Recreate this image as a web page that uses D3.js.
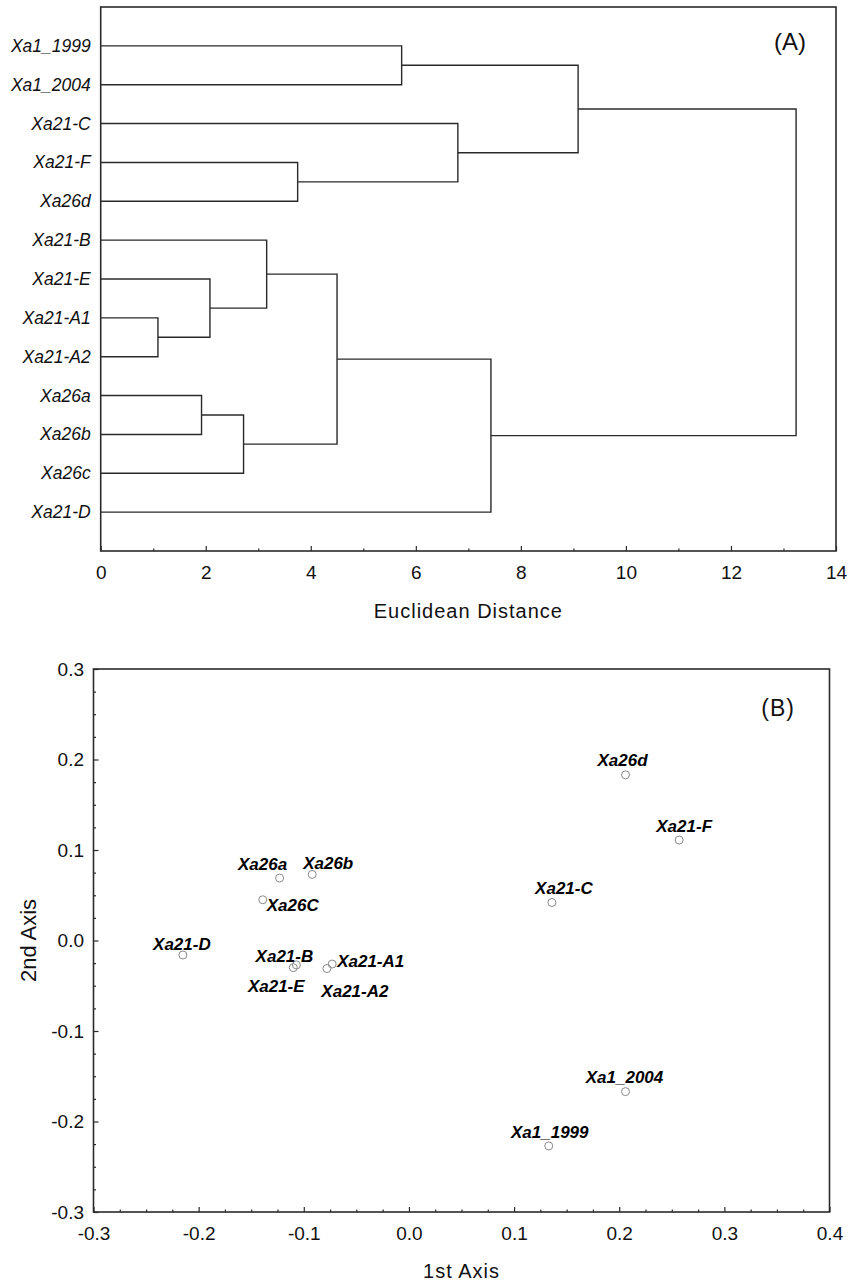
<!DOCTYPE html>
<html>
<head>
<meta charset="utf-8">
<script src="https://cdn.jsdelivr.net/npm/d3@7"></script>
<style>
  body { margin: 0; background: #fff; }
  svg { display: block; font-family: "Liberation Sans", Arial, sans-serif; }
</style>
</head>
<body>
<svg id="chart" width="848" height="1282"></svg>
<script>
// (A) dendrogram : leaves from top to bottom
var leaves = ["Xa1_1999", "Xa1_2004", "Xa21-C", "Xa21-F", "Xa26d", "Xa21-B", "Xa21-E",
              "Xa21-A1", "Xa21-A2", "Xa26a", "Xa26b", "Xa26c", "Xa21-D"];
// merges : [child, child, distance], new node ids start after the leaves
var merges = [
    [7, 8, 1.09],    // 13
    [9, 10, 1.92],   // 14
    [6, 13, 2.08],   // 15
    [14, 11, 2.72],  // 16
    [5, 15, 3.16],   // 17
    [3, 4, 3.75],    // 18
    [17, 16, 4.50],  // 19
    [0, 1, 5.73],    // 20
    [2, 18, 6.80],   // 21
    [19, 12, 7.43],  // 22
    [20, 21, 9.09],  // 23
    [23, 22, 13.24]  // 24
];
var distTicks = [0, 2, 4, 6, 8, 10, 12, 14];

// (B) ordination
var pcaNames = ["Xa26d", "Xa21-F", "Xa21-C", "Xa26a", "Xa26b", "Xa26C", "Xa21-D",
                "Xa21-B", "Xa21-E", "Xa21-A1", "Xa21-A2", "Xa1_2004", "Xa1_1999"];
var axis1 = [0.206, 0.257, 0.136, -0.123, -0.092, -0.139, -0.215, -0.107, -0.110, -0.073, -0.078, 0.206, 0.133];
var axis2 = [0.183, 0.111, 0.042, 0.069, 0.073, 0.045, -0.016, -0.027, -0.030, -0.026, -0.031, -0.167, -0.227];
var axisTicks = d3.range(-3, 5).map(i => i / 10);

// label placement around each point (dx, dy, anchor)
var labelPos = [
    [-3, -9, "middle"], [5, -8, "middle"], [12, -8, "middle"], [-17, -8, "middle"],
    [16, -5, "middle"], [4, 11, "start"], [-1, -5, "middle"], [-12, -3, "middle"],
    [-17, 24, "middle"], [5, 3, "start"], [28, 28, "middle"], [-1, -9, "middle"],
    [1, -8, "middle"]
];

var svg = d3.select("#chart");
var ink = "#2a2a2a";
var tickFont = "'Liberation Sans Narrow', 'Liberation Sans', Arial, sans-serif";

// ---------- panel A ----------
var A = { left: 100.7, right: 836, top: 7, bottom: 551 };
var xDist = d3.scaleLinear().domain([0, 14]).range([A.left, A.right]);
var yRow = d3.scaleLinear().domain([0, leaves.length + 1]).range([A.top, A.bottom]);

var gA = svg.append("g");

// node positions
var nodes = leaves.map((name, i) => ({ h: 0, y: yRow(i + 1) }));
merges.forEach(m => {
    var a = nodes[m[0]], b = nodes[m[1]];
    nodes.push({ h: m[2], y: (a.y + b.y) / 2 });
    gA.append("path")
        .attr("d", `M${xDist(a.h)},${a.y}H${xDist(m[2])}V${b.y}H${xDist(b.h)}`)
        .attr("fill", "none")
        .attr("stroke", ink)
        .attr("stroke-width", 1.4);
});

gA.selectAll("text.leaf")
    .data(leaves)
    .enter()
    .append("text")
    .attr("class", "leaf")
    .attr("x", A.left - 10)
    .attr("y", (d, i) => yRow(i + 1) + 6)
    .attr("text-anchor", "end")
    .attr("font-size", 17.5)
    .attr("font-style", "italic")
    .attr("fill", "#111")
    .text(d => d);

// axis
gA.append("g")
    .attr("transform", `translate(0,${A.bottom})`)
    .call(d3.axisBottom(xDist).tickValues(distTicks).tickSize(-5).tickPadding(15).tickFormat(d3.format("d")));
gA.append("g")
    .attr("transform", `translate(0,${A.bottom})`)
    .call(d3.axisBottom(xDist).tickValues(d3.range(1, 14, 2)).tickSize(-2.5).tickFormat(""));

gA.append("rect")
    .attr("x", A.left).attr("y", A.top)
    .attr("width", A.right - A.left).attr("height", A.bottom - A.top)
    .attr("fill", "none").attr("stroke", ink).attr("stroke-width", 1.6);

gA.append("text")
    .attr("x", (A.left + A.right) / 2)
    .attr("y", 618)
    .attr("text-anchor", "middle")
    .attr("font-size", 20)
    .attr("letter-spacing", 1)
    .attr("fill", "#111")
    .text("Euclidean Distance");

gA.append("text")
    .attr("x", 806).attr("y", 50)
    .attr("text-anchor", "end")
    .attr("font-size", 24)
    .attr("fill", "#111")
    .text("(A)");

// ---------- panel B ----------
var B = { left: 93.5, right: 829.5, top: 669, bottom: 1212 };
var x1 = d3.scaleLinear().domain([-0.3, 0.4]).range([B.left, B.right]);
var y2 = d3.scaleLinear().domain([-0.3, 0.3]).range([B.bottom, B.top]);
var gB = svg.append("g");
var fmt = d => d.toFixed(1);

var minorX = d3.range(-12, 17).filter(i => i % 4 !== 0).map(i => i * 0.025);
var minorY = d3.range(-12, 13).filter(i => i % 4 !== 0).map(i => i * 0.025);

gB.append("g")
    .attr("transform", `translate(0,${B.bottom})`)
    .call(d3.axisBottom(x1).tickValues(axisTicks).tickSize(-5).tickPadding(15).tickFormat(fmt));
gB.append("g")
    .attr("transform", `translate(0,${B.bottom})`)
    .call(d3.axisBottom(x1).tickValues(minorX).tickSize(-2.5).tickFormat(""));
gB.append("g")
    .attr("transform", `translate(${B.left},0)`)
    .call(d3.axisLeft(y2).tickValues(axisTicks.filter(d => d <= 0.3)).tickSize(-5).tickPadding(9.5).tickFormat(fmt));
gB.append("g")
    .attr("transform", `translate(${B.left},0)`)
    .call(d3.axisLeft(y2).tickValues(minorY).tickSize(-2.5).tickFormat(""));

gB.append("rect")
    .attr("x", B.left).attr("y", B.top)
    .attr("width", B.right - B.left).attr("height", B.bottom - B.top)
    .attr("fill", "none").attr("stroke", ink).attr("stroke-width", 1.6);

// style all axes
svg.selectAll(".domain").remove();
svg.selectAll(".tick line").attr("stroke", ink).attr("stroke-width", 1.2);
svg.selectAll(".tick text")
    .attr("font-size", 19)
    .attr("fill", "#111")
    .attr("font-family", tickFont);

// points
gB.selectAll("circle.pt")
    .data(pcaNames)
    .enter()
    .append("circle")
    .attr("class", "pt")
    .attr("cx", (d, i) => x1(axis1[i]))
    .attr("cy", (d, i) => y2(axis2[i]))
    .attr("r", 4)
    .attr("fill", "none")
    .attr("stroke", "#8a8a8a")
    .attr("stroke-width", 1);

gB.selectAll("text.pt")
    .data(pcaNames)
    .enter()
    .append("text")
    .attr("class", "pt")
    .attr("x", (d, i) => x1(axis1[i]) + labelPos[i][0])
    .attr("y", (d, i) => y2(axis2[i]) + labelPos[i][1])
    .attr("text-anchor", (d, i) => labelPos[i][2])
    .attr("font-size", 17)
    .attr("font-weight", "bold")
    .attr("font-style", "italic")
    .attr("fill", "#000")
    .text(d => d);

gB.append("text")
    .attr("x", (B.left + B.right) / 2)
    .attr("y", 1278)
    .attr("text-anchor", "middle")
    .attr("font-size", 20)
    .attr("letter-spacing", 1)
    .attr("fill", "#111")
    .text("1st Axis");

gB.append("text")
    .attr("transform", `translate(36,${(B.top + B.bottom) / 2}) rotate(-90)`)
    .attr("text-anchor", "middle")
    .attr("font-size", 22)
    .attr("fill", "#111")
    .text("2nd Axis");

gB.append("text")
    .attr("x", 795).attr("y", 716)
    .attr("text-anchor", "end")
    .attr("font-size", 23)
    .attr("letter-spacing", 1)
    .attr("fill", "#111")
    .text("(B)");
</script>
</body>
</html>
